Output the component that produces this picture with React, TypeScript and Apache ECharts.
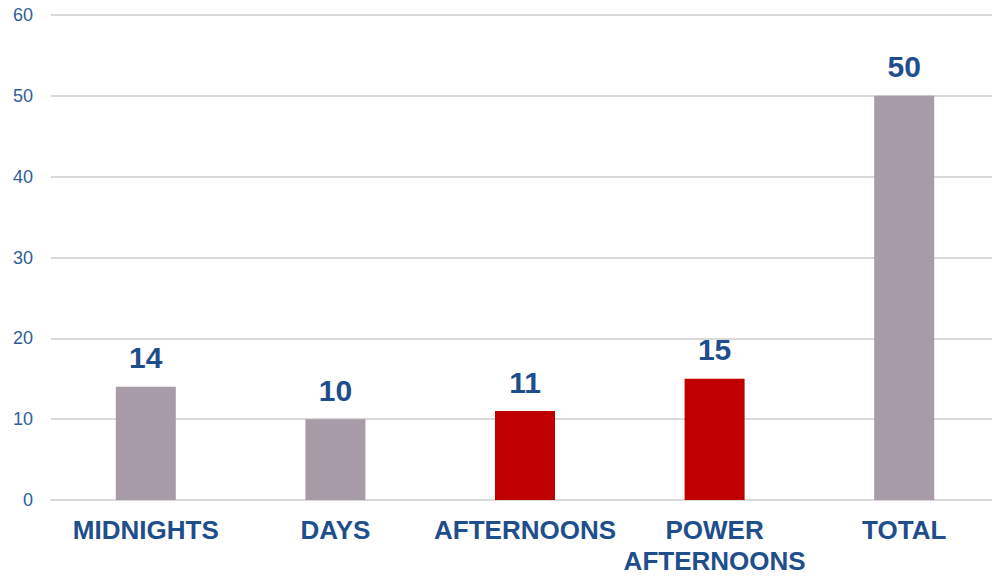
import React, { useEffect, useRef } from "react";
import * as echarts from "echarts";

const categories = ["MIDNIGHTS", "DAYS", "AFTERNOONS", "POWER\nAFTERNOONS", "TOTAL"];
const values = [14, 10, 11, 15, 50];
const barColors = ["#A69BA7", "#A69BA7", "#C00000", "#C00000", "#A69BA7"];
const yTicks = [0, 10, 20, 30, 40, 50, 60];

export default function App() {
  const ref = useRef<HTMLDivElement>(null);
  useEffect(() => {
    document.body.style.margin = "0";
    document.body.style.overflow = "hidden";
    if (!ref.current) return;
    const chart = echarts.init(ref.current, undefined, { renderer: "svg", width: 992, height: 576 });
    chart.setOption({
      animation: false,
      backgroundColor: "#FFFFFF",
      grid: { left: 51, top: 15, width: 948, height: 485, containLabel: false, outerBoundsMode: "none" },
      xAxis: {
        type: "category",
        data: categories,
        axisLine: { show: true, lineStyle: { color: "#D9D9D9", width: 2 } },
        axisTick: { show: false },
        axisLabel: {
          interval: 0,
          color: "#1F4E8C",
          fontFamily: "Liberation Sans, Arial, sans-serif",
          fontWeight: "bold",
          fontSize: 26,
          lineHeight: 31,
          margin: 14,
          verticalAlign: "top",
        },
      },
      yAxis: {
        type: "value",
        min: yTicks[0],
        max: yTicks[yTicks.length - 1],
        interval: 10,
        axisLine: { show: false },
        axisTick: { show: false },
        splitLine: { lineStyle: { color: "#D9D9D9", width: 2 } },
        axisLabel: {
          color: "#2F5F9A",
          fontFamily: "Liberation Sans, Arial, sans-serif",
          fontSize: 18,
          margin: 18,
        },
      },
      series: [
        {
          type: "bar",
          barWidth: 60,
          data: values.map((v, i) => ({ value: v, itemStyle: { color: barColors[i] } })),
          label: {
            show: true,
            position: "top",
            distance: 14,
            color: "#1F4E8C",
            fontFamily: "Liberation Sans, Arial, sans-serif",
            fontWeight: "bold",
            fontSize: 30,
          },
        },
      ],
    });
    return () => chart.dispose();
  }, []);
  return (
    <div
      ref={ref}
      style={{ position: "fixed", left: 0, top: 0, width: 992, height: 576, overflow: "hidden", background: "#fff" }}
    />
  );
}
